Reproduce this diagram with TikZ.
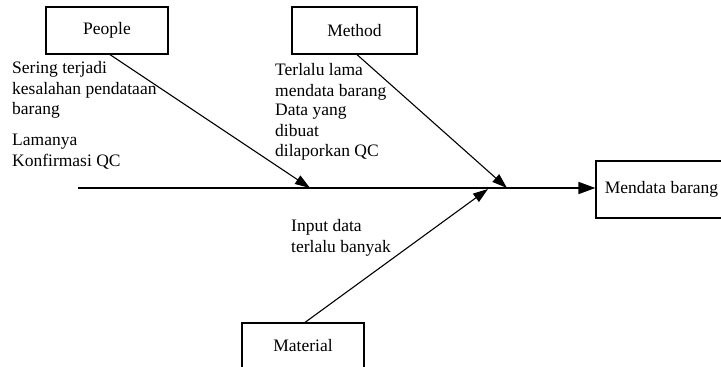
\documentclass[tikz,border=0pt]{standalone}
\usepackage{fontspec}
\setmainfont{Liberation Serif}
\usetikzlibrary{arrows.meta,calc}

\begin{document}
\begin{tikzpicture}[x=1pt,y=-1pt,
  every node/.style={font=\fontsize{17.5}{20.5}\selectfont},
  catbox/.style={draw, line width=1.2pt, inner sep=0pt},
  cause/.style={anchor=north west, align=left, inner sep=0pt},
  bone/.style={line width=1.1pt, -{Triangle[length=15pt,width=10pt]}},
  spine/.style={line width=1.7pt, -{Triangle[length=17pt,width=12pt]}}]
\useasboundingbox (0,0) rectangle (721,367);

% category boxes and the effect box
\node[catbox, minimum width=122pt, minimum height=47pt] (people) at (107,30.5) {People};
\node[catbox, minimum width=125pt, minimum height=47pt] (method) at (354.5,30.5) {Method};
\node[catbox, minimum width=122pt, minimum height=46pt] (material) at (303,346) {Material};
\node[catbox, minimum width=131pt, minimum height=57pt] (effect) at (661.5,189.5) {Mendata barang};

% backbone and the points where the bones meet it
\coordinate (tail) at (78,188);
\coordinate (jpeople) at (310,188);
\coordinate (jmethod) at (507,188);
\coordinate (jmaterial) at (488,189);

\draw[spine] (tail) -- (effect.west |- tail);
\draw[bone] ([xshift=3pt]people.south) -- (jpeople);
\draw[bone] ([xshift=2.5pt]method.south) -- (jmethod);
\draw[bone] ([xshift=2pt]material.north) -- (jmaterial);

% causes
\node[cause] (c1) at (12,61.5) {Sering terjadi\\kesalahan pendataan\\barang};
\node[cause] (c2) at (12,133.9) {Lamanya\\Konfirmasi QC};
\node[cause] (c3) at (275,63.5) {Terlalu lama\\mendata barang};
\node[cause] (c4) at (275,103.9) {Data yang\\dibuat\\dilaporkan QC};
\node[cause] (c5) at (291,219.5) {Input data\\terlalu banyak};
\end{tikzpicture}
\end{document}
